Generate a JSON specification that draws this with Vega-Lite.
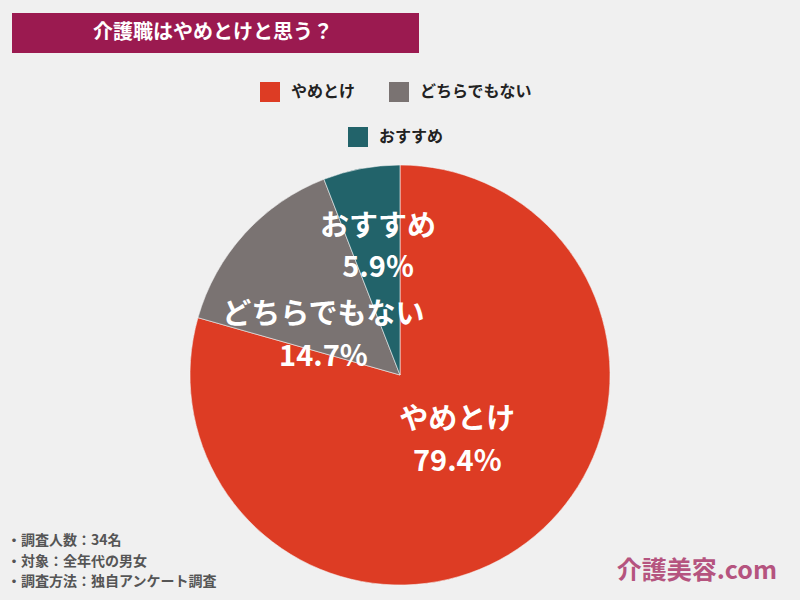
{
  "$schema": "https://vega.github.io/schema/vega-lite/v6.json",
  "width": 420,
  "height": 420,
  "autosize": "none",
  "padding": {"left": 190, "top": 165, "right": 190, "bottom": 15},
  "background": "#f0f0f0",
  "config": {"view": {"stroke": null}, "font": "Noto Sans CJK JP"},
  "datasets": {
    "answers": [
      {"answer": "やめとけ", "share": 0.794, "rank": 1},
      {"answer": "どちらでもない", "share": 0.147, "rank": 2},
      {"answer": "おすすめ", "share": 0.059, "rank": 3}
    ]
  },
  "data": {"name": "answers"},
  "layer": [
    {
      "mark": {"type": "arc", "radius": 210, "stroke": "#f4f4f4", "strokeWidth": 0.6},
      "encoding": {
        "theta": {"field": "share", "type": "quantitative", "stack": true},
        "order": {"field": "rank", "type": "quantitative"},
        "color": {
          "field": "answer", "type": "nominal",
          "scale": {"domain": ["やめとけ", "どちらでもない", "おすすめ"], "range": ["#dd3c24", "#7a7372", "#22636a"]},
          "legend": {
            "values": ["おすすめ"], "title": null, "orient": "none", "legendX": 158, "legendY": -38,
            "direction": "horizontal", "symbolType": "square", "symbolSize": 400, "symbolStrokeWidth": 0,
            "labelFontSize": 16, "labelFontWeight": "bold", "labelColor": "#222222", "labelOffset": 11,
            "labelFont": "Noto Sans CJK JP"
          }
        }
      }
    },
    {
      "mark": {"type": "arc", "radius": 210, "stroke": "#f4f4f4", "strokeWidth": 0.6},
      "encoding": {
        "theta": {"field": "share", "type": "quantitative", "stack": true},
        "order": {"field": "rank", "type": "quantitative"},
        "color": {
          "field": "answer", "type": "nominal",
          "scale": {"domain": ["やめとけ", "どちらでもない", "おすすめ"], "range": ["#dd3c24", "#7a7372", "#22636a"]},
          "legend": {
            "values": ["やめとけ", "どちらでもない"], "title": null, "orient": "none", "legendX": 70, "legendY": -83,
            "direction": "horizontal", "symbolType": "square", "symbolSize": 400, "symbolStrokeWidth": 0,
            "labelFontSize": 16, "labelFontWeight": "bold", "labelColor": "#222222", "labelOffset": 11,
            "columnPadding": 33, "labelFont": "Noto Sans CJK JP"
          }
        }
      }
    },
    {
      "mark": {"type": "text", "radius": 90, "dx": 3, "dy": -27, "fontSize": 29, "fontWeight": "bold", "color": "white", "align": "center", "baseline": "middle"},
      "encoding": {
        "theta": {"field": "share", "type": "quantitative", "stack": true},
        "order": {"field": "rank", "type": "quantitative"},
        "text": {"condition": {"test": "datum.answer === 'やめとけ'", "field": "answer", "type": "nominal"}, "value": ""}
      }
    },
    {
      "mark": {"type": "text", "radius": 90, "dx": 3, "dy": 15, "fontSize": 29, "fontWeight": "bold", "color": "white", "align": "center", "baseline": "middle"},
      "encoding": {
        "theta": {"field": "share", "type": "quantitative", "stack": true},
        "order": {"field": "rank", "type": "quantitative"},
        "text": {"condition": {"test": "datum.answer === 'やめとけ'", "field": "share", "type": "quantitative", "format": ".1%"}, "value": ""}
      }
    },
    {
      "mark": {"type": "text", "radius": 90, "dx": -10, "dy": 1, "fontSize": 29, "fontWeight": "bold", "color": "white", "align": "center", "baseline": "middle"},
      "encoding": {
        "theta": {"field": "share", "type": "quantitative", "stack": true},
        "order": {"field": "rank", "type": "quantitative"},
        "text": {"condition": {"test": "datum.answer === 'どちらでもない'", "field": "answer", "type": "nominal"}, "value": ""}
      }
    },
    {
      "mark": {"type": "text", "radius": 90, "dx": -10, "dy": 43, "fontSize": 29, "fontWeight": "bold", "color": "white", "align": "center", "baseline": "middle"},
      "encoding": {
        "theta": {"field": "share", "type": "quantitative", "stack": true},
        "order": {"field": "rank", "type": "quantitative"},
        "text": {"condition": {"test": "datum.answer === 'どちらでもない'", "field": "share", "type": "quantitative", "format": ".1%"}, "value": ""}
      }
    },
    {
      "mark": {"type": "text", "radius": 130, "dx": 2, "dy": -20, "fontSize": 29, "fontWeight": "bold", "color": "white", "align": "center", "baseline": "middle"},
      "encoding": {
        "theta": {"field": "share", "type": "quantitative", "stack": true},
        "order": {"field": "rank", "type": "quantitative"},
        "text": {"condition": {"test": "datum.answer === 'おすすめ'", "field": "answer", "type": "nominal"}, "value": ""}
      }
    },
    {
      "mark": {"type": "text", "radius": 130, "dx": 2, "dy": 21, "fontSize": 29, "fontWeight": "bold", "color": "white", "align": "center", "baseline": "middle"},
      "encoding": {
        "theta": {"field": "share", "type": "quantitative", "stack": true},
        "order": {"field": "rank", "type": "quantitative"},
        "text": {"condition": {"test": "datum.answer === 'おすすめ'", "field": "share", "type": "quantitative", "format": ".1%"}, "value": ""}
      }
    },
    {
      "data": {"values": [{}]},
      "mark": {"type": "rect", "color": "#9b1a50"},
      "encoding": {"x": {"value": -178}, "x2": {"value": 229}, "y": {"value": -152}, "y2": {"value": -112}}
    },
    {
      "data": {"values": [{}]},
      "mark": {"type": "text", "fontSize": 20, "fontWeight": "bold", "color": "white", "align": "center", "baseline": "middle"},
      "encoding": {"x": {"value": 23}, "y": {"value": -132}, "text": {"value": "介護職はやめとけと思う？"}}
    },
    {
      "data": {"values": [{}]},
      "mark": {"type": "text", "fontSize": 14, "fontWeight": "bold", "color": "#555555", "align": "left", "baseline": "top", "lineHeight": 20.5},
      "encoding": {"x": {"value": -183}, "y": {"value": 369}, "text": {"value": ["・調査人数：34名", "・対象：全年代の男女", "・調査方法：独自アンケート調査"]}}
    },
    {
      "data": {"values": [{}]},
      "mark": {"type": "text", "fontSize": 25, "fontWeight": "bold", "color": "#b5547f", "align": "right", "baseline": "middle"},
      "encoding": {"x": {"value": 587}, "y": {"value": 406}, "text": {"value": "介護美容.com"}}
    }
  ],
  "resolve": {"scale": {"color": "independent"}}
}
